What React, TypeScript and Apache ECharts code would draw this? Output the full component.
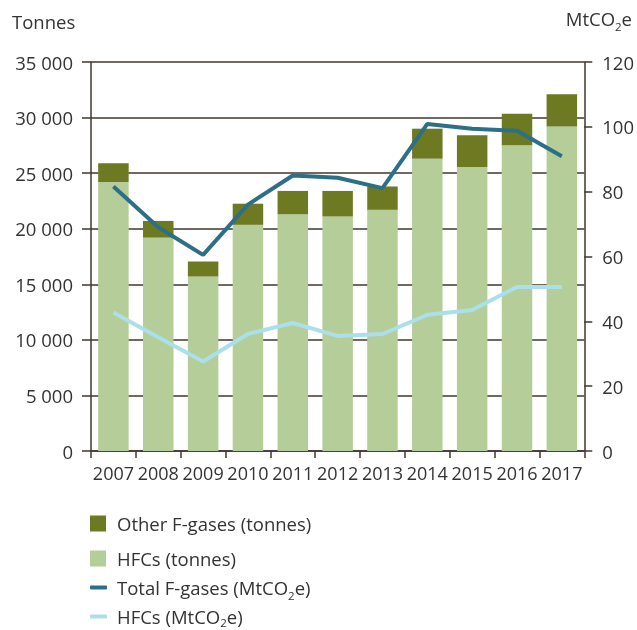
import React, { useEffect, useRef } from "react";
import * as echarts from "echarts";

const years = ["2007", "2008", "2009", "2010", "2011", "2012", "2013", "2014", "2015", "2016", "2017"];
const hfcTonnes = [24200, 19200, 15700, 20350, 21300, 21100, 21700, 26300, 25550, 27500, 29200];
const otherTonnes = [1700, 1500, 1350, 1900, 2100, 2300, 2100, 2700, 2850, 2850, 2900];
const totalMt = [81.6, 69.0, 60.5, 76.0, 85.0, 84.3, 81.1, 100.9, 99.4, 98.8, 90.9];
const hfcMt = [42.7, 35.1, 27.6, 36.1, 39.5, 35.5, 36.1, 42.0, 43.5, 50.6, 50.6];

const leftTicks = { min: 0, max: 35000, interval: 5000 };
const rightTicks = { min: 0, max: 120, interval: 20 };

const NAME_OTHER = "Other F-gases (tonnes)";
const NAME_HFC_T = "HFCs (tonnes)";
const NAME_TOTAL_MT = "Total F-gases (MtCO2e)";
const NAME_HFC_MT = "HFCs (MtCO2e)";

const FONT = "'Open Sans', 'Noto Sans', sans-serif";
const TXT = "#333333";
const AX = "#3f372e";

const makeRich = (drop: number) => ({
  n: { fontSize: 18.5, fontFamily: FONT, color: TXT },
  sub: { fontSize: 11.5, fontFamily: FONT, color: TXT, padding: [drop, 0, 0, 0] },
});

const fmtThousands = (v: number) => String(v).replace(/\B(?=(\d{3})+(?!\d))/g, " ");
const subName = (name: string) => "{n|" + name.replace("CO2", "CO}{sub|2}{n|") + "}";

const lineLegend = (name: string, top: number, drop: number) => ({
  orient: "vertical",
  left: 90,
  top,
  padding: 0,
  itemWidth: 17,
  itemHeight: 4,
  icon: "roundRect",
  itemStyle: { borderWidth: 0 },
  data: [name],
  formatter: (n: string) => subName(n),
  textStyle: { fontSize: 18.5, color: TXT, fontFamily: FONT, padding: [0, 0, 0, 5], rich: makeRich(drop) },
  selectedMode: false,
});

export default function App() {
  const ref = useRef<HTMLDivElement>(null);
  useEffect(() => {
    if (!ref.current) return;
    const chart = echarts.init(ref.current, null, { renderer: "svg" });
    chart.setOption({
      animation: false,
      textStyle: { fontFamily: FONT },
      grid: { left: 91, right: 51, top: 62, bottom: 179 },
      graphic: [
        {
          type: "text",
          left: 12,
          top: 12,
          style: { text: "Tonnes", font: `18.5px ${FONT}`, fill: TXT },
        },
        {
          type: "text",
          right: 5,
          top: 9,
          style: { text: "{n|MtCO}{sub|2}{n|e}", rich: makeRich(15), fill: TXT },
        },
      ],
      legend: [
        {
          orient: "vertical",
          left: 90,
          top: 514,
          padding: 0,
          itemWidth: 16,
          itemHeight: 16,
          itemGap: 16,
          icon: "rect",
          data: [NAME_OTHER, NAME_HFC_T],
          textStyle: { fontSize: 18.5, color: TXT, fontFamily: FONT, padding: [0, 0, 0, 6] },
          selectedMode: false,
        },
        lineLegend(NAME_TOTAL_MT, 578, 15),
        lineLegend(NAME_HFC_MT, 607, 11),
      ],
      xAxis: {
        type: "category",
        data: years,
        boundaryGap: true,
        axisLine: { show: true, lineStyle: { color: AX, width: 1.5 } },
        axisTick: { show: true, length: 7, lineStyle: { color: AX, width: 1.5 } },
        axisLabel: { fontSize: 18, color: TXT, margin: 13, fontFamily: FONT, interval: 0 },
      },
      yAxis: [
        {
          type: "value",
          ...leftTicks,
          position: "left",
          axisLine: { show: true, lineStyle: { color: AX, width: 1.5 } },
          axisTick: { show: true, length: 9, lineStyle: { color: AX, width: 1.5 } },
          splitLine: { show: true, lineStyle: { color: AX, width: 1.5 } },
          axisLabel: { fontSize: 18.5, color: TXT, margin: 18, fontFamily: FONT, formatter: fmtThousands },
        },
        {
          type: "value",
          ...rightTicks,
          position: "right",
          axisLine: { show: true, lineStyle: { color: AX, width: 1.5 } },
          axisTick: { show: true, length: 8, lineStyle: { color: AX, width: 1.5 } },
          splitLine: { show: false },
          axisLabel: { fontSize: 18.5, color: TXT, margin: 18, fontFamily: FONT },
        },
      ],
      series: [
        {
          name: NAME_HFC_T,
          type: "bar",
          stack: "t",
          yAxisIndex: 0,
          barWidth: "68%",
          data: hfcTonnes,
          itemStyle: { color: "#b5cd99" },
        },
        {
          name: NAME_OTHER,
          type: "bar",
          stack: "t",
          yAxisIndex: 0,
          barWidth: "68%",
          data: otherTonnes,
          itemStyle: { color: "#6d7a22" },
        },
        {
          name: NAME_TOTAL_MT,
          type: "line",
          yAxisIndex: 1,
          data: totalMt,
          symbol: "none",
          lineStyle: { color: "#2d6f86", width: 4 },
          itemStyle: { color: "#2d6f86" },
          z: 5,
        },
        {
          name: NAME_HFC_MT,
          type: "line",
          yAxisIndex: 1,
          data: hfcMt,
          symbol: "none",
          lineStyle: { color: "#abdfea", width: 4 },
          itemStyle: { color: "#abdfea" },
          z: 5,
        },
      ],
    });
    return () => chart.dispose();
  }, []);
  return <div ref={ref} style={{ position: "fixed", left: 0, top: 0, width: 637, height: 630 }} />;
}
